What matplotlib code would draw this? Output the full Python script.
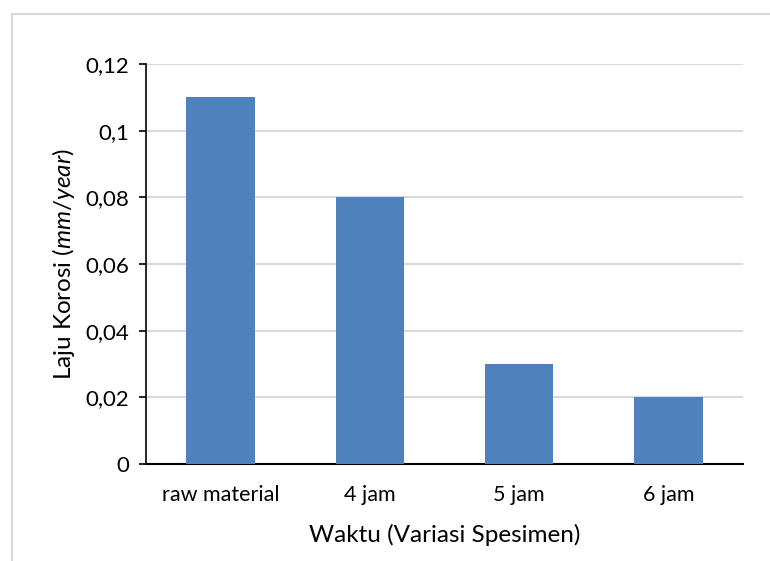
import matplotlib
matplotlib.use("Agg")
import matplotlib.pyplot as plt
from matplotlib.patches import Rectangle

categories = ["raw material", "4 jam", "5 jam", "6 jam"]
values = [0.11, 0.08, 0.03, 0.02]
yticks = [0, 0.02, 0.04, 0.06, 0.08, 0.1, 0.12]
ytick_labels = ["0", "0,02", "0,04", "0,06", "0,08", "0,1", "0,12"]

plt.rcParams['font.family'] = ['Lato', 'DejaVu Sans']
plt.rcParams['mathtext.fontset'] = 'custom'
plt.rcParams['mathtext.it'] = 'Lato:italic'
plt.rcParams['mathtext.rm'] = 'Lato'

fig = plt.figure(figsize=(7.7, 5.61), dpi=100)
W, H = 770, 561
# outer chart frame
fig.patches.append(Rectangle((12 / W, -0.1), 1.2, (H - 14) / H + 0.1, transform=fig.transFigure,
                             fill=False, edgecolor="#d9d9d9", linewidth=1.5))

ax = fig.add_axes([146 / W, 1 - 464 / H, (743 - 146) / W, (464 - 64) / H])
x = range(len(categories))
ax.bar(x, values, width=0.46, color="#4F81BD", zorder=3)
ax.set_xlim(-0.5, len(categories) - 0.5)
ax.set_ylim(0, 0.12)
ax.set_yticks(yticks)
ax.set_yticklabels(ytick_labels, fontsize=16)
ax.set_xticks(list(x))
ax.set_xticklabels(categories, fontsize=15.5)
ax.tick_params(axis='x', length=0, pad=15)
ax.tick_params(axis='y', length=5, width=1.2, pad=7, direction='out')
ax.grid(axis='y', color="#d9d9d9", linewidth=1.5, zorder=0)
ax.set_axisbelow(True)
for s in ["top", "right"]:
    ax.spines[s].set_visible(False)
ax.spines["left"].set_linewidth(1.2)
ax.spines["bottom"].set_linewidth(1.5)
ax.set_xlabel("Waktu (Variasi Spesimen)", fontsize=17.5, labelpad=14)
ax.set_ylabel(r"Laju Korosi ($\mathit{mm/year}$)", fontsize=17.5, labelpad=6)

fig.savefig("out.png", dpi=100, facecolor="white")
